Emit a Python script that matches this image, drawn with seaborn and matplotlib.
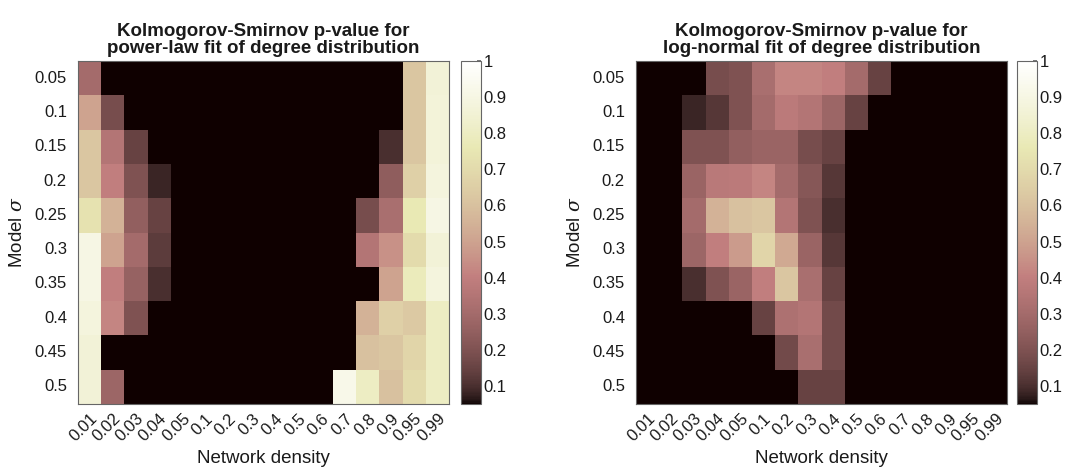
import numpy as np
import pandas as pd
import matplotlib
matplotlib.use("Agg")
import matplotlib.pyplot as plt
from matplotlib.colors import ListedColormap
import seaborn as sns

densities = ["0.01", "0.02", "0.03", "0.04", "0.05", "0.1", "0.2", "0.3",
             "0.4", "0.5", "0.6", "0.7", "0.8", "0.9", "0.95", "0.99"]
sigmas = ["0.05", "0.1", "0.15", "0.2", "0.25", "0.3", "0.35", "0.4", "0.45", "0.5"]

powerlaw_p = [
    [0.30, 0, 0, 0, 0, 0, 0, 0, 0, 0, 0, 0, 0, 0, 0.62, 0.86],
    [0.50, 0.18, 0, 0, 0, 0, 0, 0, 0, 0, 0, 0, 0, 0, 0.62, 0.87],
    [0.62, 0.35, 0.15, 0, 0, 0, 0, 0, 0, 0, 0, 0, 0, 0.10, 0.62, 0.87],
    [0.62, 0.40, 0.20, 0.08, 0, 0, 0, 0, 0, 0, 0, 0, 0, 0.24, 0.66, 0.88],
    [0.73, 0.55, 0.25, 0.15, 0, 0, 0, 0, 0, 0, 0, 0, 0.18, 0.32, 0.76, 0.90],
    [0.90, 0.50, 0.30, 0.13, 0, 0, 0, 0, 0, 0, 0, 0, 0.35, 0.45, 0.70, 0.86],
    [0.90, 0.40, 0.26, 0.10, 0, 0, 0, 0, 0, 0, 0, 0, 0, 0.50, 0.78, 0.88],
    [0.88, 0.42, 0.20, 0, 0, 0, 0, 0, 0, 0, 0, 0, 0.55, 0.66, 0.63, 0.80],
    [0.86, 0, 0, 0, 0, 0, 0, 0, 0, 0, 0, 0, 0.60, 0.62, 0.68, 0.80],
    [0.86, 0.28, 0, 0, 0, 0, 0, 0, 0, 0, 0, 0.92, 0.80, 0.60, 0.70, 0.80],
]

lognormal_p = [
    [0, 0, 0, 0.18, 0.20, 0.32, 0.42, 0.42, 0.40, 0.30, 0.15, 0, 0, 0, 0, 0],
    [0, 0, 0.08, 0.12, 0.20, 0.30, 0.38, 0.35, 0.28, 0.15, 0, 0, 0, 0, 0, 0],
    [0, 0, 0.20, 0.20, 0.25, 0.27, 0.27, 0.18, 0.15, 0, 0, 0, 0, 0, 0, 0],
    [0, 0, 0.27, 0.37, 0.38, 0.42, 0.30, 0.22, 0.12, 0, 0, 0, 0, 0, 0, 0],
    [0, 0, 0.30, 0.55, 0.60, 0.62, 0.35, 0.20, 0.10, 0, 0, 0, 0, 0, 0, 0],
    [0, 0, 0.28, 0.40, 0.48, 0.68, 0.52, 0.27, 0.12, 0, 0, 0, 0, 0, 0, 0],
    [0, 0, 0.10, 0.20, 0.27, 0.40, 0.62, 0.32, 0.15, 0, 0, 0, 0, 0, 0, 0],
    [0, 0, 0, 0, 0, 0.15, 0.33, 0.35, 0.17, 0, 0, 0, 0, 0, 0, 0],
    [0, 0, 0, 0, 0, 0, 0.17, 0.32, 0.17, 0, 0, 0, 0, 0, 0, 0],
    [0, 0, 0, 0, 0, 0, 0, 0.15, 0.15, 0, 0, 0, 0, 0, 0, 0],
]

cbar_ticks = [0.1, 0.2, 0.3, 0.4, 0.5, 0.6, 0.7, 0.8, 0.9, 1]
cbar_labels = ["0.1", "0.2", "0.3", "0.4", "0.5", "0.6", "0.7", "0.8", "0.9", "1"]

titles = ["Kolmogorov-Smirnov p-value for\npower-law fit of degree distribution",
          "Kolmogorov-Smirnov p-value for\nlog-normal fit of degree distribution"]


def matlab_pink(m=256):
    n = int(np.fix(3 / 8 * m))
    r = np.concatenate([np.arange(1, n + 1) / n, np.ones(m - n)])
    g = np.concatenate([np.zeros(n), np.arange(1, n + 1) / n, np.ones(m - 2 * n)])
    b = np.concatenate([np.zeros(2 * n), np.arange(1, m - 2 * n + 1) / (m - 2 * n)])
    hot = np.stack([r, g, b], axis=1)
    gray = np.linspace(0, 1, m)[:, None] * np.ones((1, 3))
    return ListedColormap(np.sqrt((2 * gray + hot) / 3))


cmap = matlab_pink()

sns.set_theme(style="white")
plt.rcParams['font.family'] = ['Liberation Sans', 'DejaVu Sans']
plt.rcParams['mathtext.fontset'] = 'dejavuserif'
txt = "#1a1a1a"
plt.rcParams['text.color'] = txt
plt.rcParams['axes.labelcolor'] = txt
plt.rcParams['xtick.color'] = txt
plt.rcParams['ytick.color'] = txt

W, H = 1066, 471
fig = plt.figure(figsize=(W / 100, H / 100), dpi=100)


def px_axes(x0, x1, y0, y1):
    return fig.add_axes([x0 / W, 1 - y1 / H, (x1 - x0) / W, (y1 - y0) / H])


layouts = [((78, 449), (461, 481)), ((636, 1007), (1017, 1037))]
y_top, y_bot = 61, 404
edge = "#666666"

for data, title, (axx, cbx) in zip([powerlaw_p, lognormal_p], titles, layouts):
    ax = px_axes(axx[0], axx[1], y_top, y_bot)
    cax = px_axes(cbx[0], cbx[1], y_top, y_bot)
    df = pd.DataFrame(data, index=sigmas, columns=densities)
    sns.heatmap(df, ax=ax, cbar_ax=cax, cmap=cmap, vmin=0.05, vmax=1,
                linewidths=0, square=False)
    ax.set_title(title, fontsize=13.5, fontweight="bold", pad=6, linespacing=0.95)
    ax.set_xlabel("Network density", fontsize=13.5, labelpad=4)
    ax.set_ylabel(r"Model $\sigma$", fontsize=13.5, labelpad=6)
    ax.set_xticklabels(densities, rotation=45, ha="right", rotation_mode="anchor",
                       fontsize=12)
    ax.set_yticklabels(sigmas, rotation=0, fontsize=12)
    ax.tick_params(axis="x", which="both", direction="in", length=3,
                   color=edge, top=True, bottom=True, pad=5)
    ax.tick_params(axis="y", which="both", direction="in", length=3,
                   color=edge, left=True, right=True, pad=8)
    for s in ax.spines.values():
        s.set_visible(True)
        s.set_color(edge)
        s.set_linewidth(0.8)
    cb = ax.collections[0].colorbar
    cb.set_ticks(cbar_ticks)
    cb.set_ticklabels(cbar_labels)
    cax.tick_params(direction="in", length=3, color=edge, labelsize=12, pad=2,
                    right=True, left=False)
    cb.outline.set_visible(True)
    cb.outline.set_edgecolor(edge)
    cb.outline.set_linewidth(0.8)

fig.savefig("out.png", dpi=100)
